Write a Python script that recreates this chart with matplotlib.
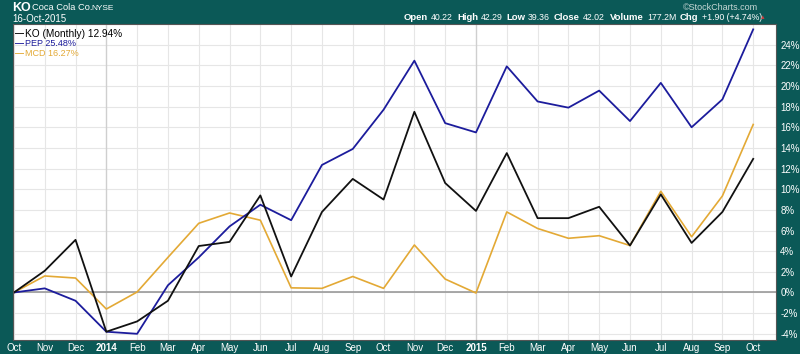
import numpy as np
import matplotlib
matplotlib.use("Agg")
import matplotlib.pyplot as plt

plt.rcParams["font.family"] = ["Liberation Sans", "DejaVu Sans"]

# Monthly % change since Oct 2013
months = ["Oct", "Nov", "Dec", "2014", "Feb", "Mar", "Apr", "May", "Jun", "Jul", "Aug", "Sep",
          "Oct", "Nov", "Dec", "2015", "Feb", "Mar", "Apr", "May", "Jun", "Jul", "Aug", "Sep", "Oct"]
ko = [0, 2.1, 5.1, -3.8, -2.8, -0.8, 4.5, 4.9, 9.4, 1.55, 7.8, 11.0,
      9.0, 17.5, 10.6, 7.9, 13.5, 7.2, 7.2, 8.3, 4.55, 9.5, 4.8, 7.8, 12.94]
pep = [0, 0.4, -0.8, -3.8, -4.0, 0.7, 3.4, 6.4, 8.5, 7.0, 12.35, 13.9,
       17.7, 22.45, 16.4, 15.5, 21.9, 18.5, 17.9, 19.55, 16.6, 20.3, 16.0, 18.7, 25.48]
mcd = [0, 1.6, 1.4, -1.6, 0.05, 3.4, 6.7, 7.7, 7.0, 0.45, 0.4, 1.55,
       0.4, 4.6, 1.3, -0.05, 7.8, 6.2, 5.25, 5.5, 4.55, 9.8, 5.4, 9.35, 16.27]
yticks = list(range(-4, 25, 2))

# quote header: label, value
quote_labels = ["Open", "High", "Low", "Close", "Volume", "Chg"]
quote_values = ["40.22", "42.29", "39.36", "42.02", "177.2M", "+1.90 (+4.74%)"]

bg = "#0b5957"
blue = "#1c1c9c"
gold = "#e3a935"

fig = plt.figure(figsize=(8, 3.54), dpi=100, facecolor=bg)
ax = fig.add_axes([13/800, 14/354, 763/800, 316/354])
ax.set_facecolor("white")

x = np.arange(len(months))
ax.plot(x, mcd, color=gold, lw=1.2)
ax.plot(x, pep, color=blue, lw=1.3)
ax.plot(x, ko, color="#111111", lw=1.3)

ax.set_xlim(-0.03, 24.74)
ax.set_ylim(-4.6, 26.0)

# grid
for v in yticks:
    ax.axhline(v, color="#e6e6e6", lw=0.8, zorder=0)
for i, m in enumerate(months):
    c = "#cfcfcf" if m.isdigit() else "#e6e6e6"
    ax.axvline(i, color=c, lw=1.0 if m.isdigit() else 0.8, zorder=0)
ax.axhline(0, color="#9a9a9a", lw=1.2, zorder=1)

ax.set_xticks(x)
ax.set_xticklabels(months)
for lab, m in zip(ax.get_xticklabels(), months):
    lab.set_fontweight("bold" if m.isdigit() else "normal")
    lab.set_fontsize(8 if m.isdigit() else 7)
ax.set_yticks(yticks)
ax.set_yticklabels([f"{v}%" for v in yticks])
ax.yaxis.tick_right()
ax.tick_params(axis="both", colors="white", length=0, labelsize=7, pad=3)
ax.tick_params(axis="x", pad=2)
for s in ax.spines.values():
    s.set_color("#555555")
    s.set_linewidth(0.8)

# legend lines
leg = [("KO (Monthly) 12.94%", "black"), ("PEP 25.48%", blue), ("MCD 16.27%", gold)]
for k, (t, c) in enumerate(leg):
    yy = 0.985 - k * 0.032
    ax.text(0.003, yy, "\u2014", color=c, fontsize=6.5, fontweight="bold",
            transform=ax.transAxes, va="top", ha="left")
    ax.text(0.016, yy, t, color=c, fontsize=7.3 if k == 0 else 6.5,
            transform=ax.transAxes, va="top", ha="left")

# header
fig.text(12/800, 1 - 8/354, "KO", color="white", fontsize=9, fontweight="bold", va="center")
fig.text(32/800, 1 - 8/354, "Coca Cola Co.", color="white", fontsize=6.7, va="center")
fig.text(91/800, 1 - 8/354, "NYSE", color="white", fontsize=6, va="center")
fig.text(12/800, 1 - 19/354, "16-Oct-2015", color="white", fontsize=7, va="center")
fig.text(758/800, 1 - 7/354, "\u00a9StockCharts.com", color="#c8d8d6", fontsize=6.5,
         va="center", ha="right")

renderer = fig.canvas.get_renderer()
label_x = [404, 457, 506, 554, 610, 680]
value_x = [430, 478, 523, 582, 647, 700]
for lx, vx, lab, val in zip(label_x, value_x, quote_labels, quote_values):
    t = fig.text(lx/800, 1 - 18/354, lab, color="white", fontsize=6.8, fontweight="bold",
                 va="center")
    end = t.get_window_extent(renderer).x1
    fig.text(max(vx, end + 3)/800, 1 - 18/354, val, color="white", fontsize=6.3, va="center")
fig.text(761/800, 1 - 18/354, "\u25b4", color="#d04040", fontsize=5, va="center")

fig.savefig("out.png", dpi=100, facecolor=bg)
